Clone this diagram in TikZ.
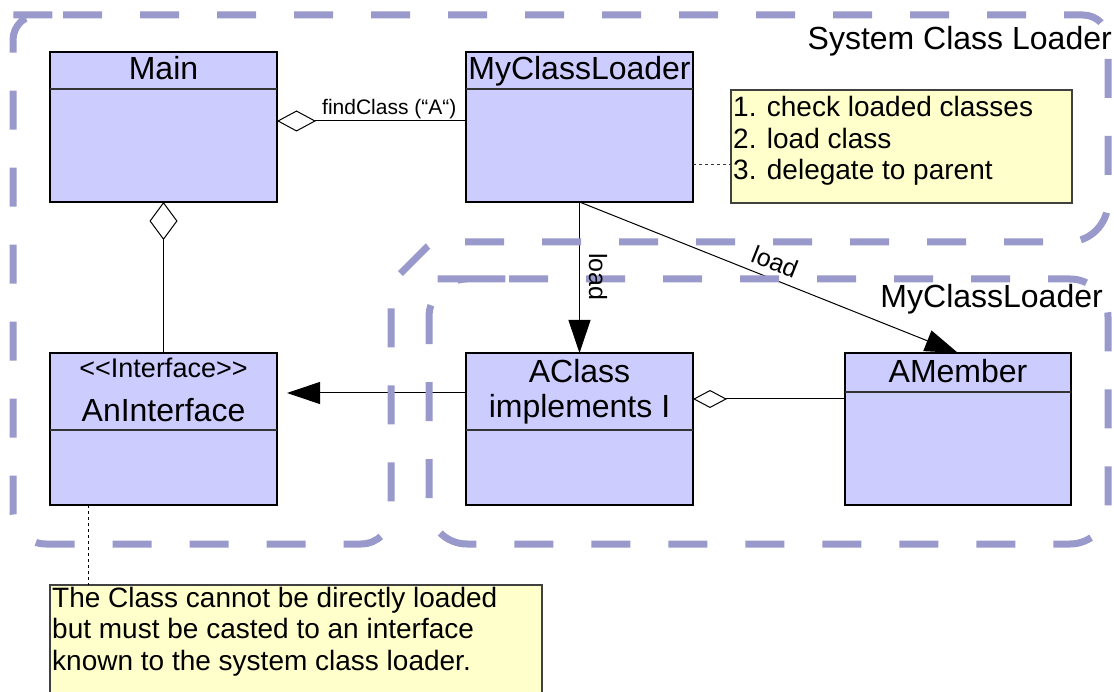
\documentclass[tikz,border=0pt]{standalone}
\usepackage{fontspec}
\setmainfont{Liberation Sans}
\usetikzlibrary{arrows.meta,calc}
\definecolor{boxfill}{HTML}{CCCCFF}
\definecolor{notefill}{HTML}{FFFFCC}
\definecolor{grp}{HTML}{9999CC}
\newcommand{\myfs}[1]{\fontsize{#1pt}{#1pt}\selectfont}
\begin{document}
\begin{tikzpicture}[x=1pt,y=-1pt,
  classbox/.style={draw=black, line width=1.5pt, fill=boxfill, inner sep=0pt, outer sep=0pt},
  notebox/.style={draw=black!75, line width=1.3pt, fill=notefill, inner sep=0pt, outer sep=0pt},
  divider/.style={draw=black!80, line width=1.3pt},
  title/.style={font=\myfs{32}, inner sep=0pt, anchor=base},
  notetext/.style={font=\myfs{28}, inner sep=0pt, anchor=base west},
  conn/.style={draw=black, line width=1pt},
  group/.style={draw=grp, line width=7pt, dash pattern=on 39pt off 38pt},
  grouplabel/.style={font=\myfs{32}, inner sep=0pt, anchor=base east},
  filltip/.style={-{Triangle[length=33pt,width=22pt]}},
  note link/.style={draw=black!80, line width=1pt, dash pattern=on 3pt off 3pt}
]
\useasboundingbox (0,0) rectangle (1114,692);
\clip (0,0) rectangle (1114,692);
\fill[white] (0,0) rectangle (1114,692);

% class boxes
\node[classbox, minimum width=227pt, minimum height=150pt] (main) at (163.5,127) {};
\node[classbox, minimum width=227pt, minimum height=150pt] (mcl) at (579.5,127) {};
\node[classbox, minimum width=227pt, minimum height=152pt] (ani) at (163.5,429) {};
\node[classbox, minimum width=227pt, minimum height=152pt] (acl) at (579.5,429) {};
\node[classbox, minimum width=226pt, minimum height=152pt] (amem) at (958,429) {};

% header dividers
\draw[divider] ($(main.north west)+(0,37)$) -- ($(main.north east)+(0,37)$);
\draw[divider] ($(mcl.north west)+(0,37)$) -- ($(mcl.north east)+(0,37)$);
\draw[divider] ($(ani.north west)+(0,77)$) -- ($(ani.north east)+(0,77)$);
\draw[divider] ($(acl.north west)+(0,77)$) -- ($(acl.north east)+(0,77)$);
\draw[divider] ($(amem.north west)+(0,39)$) -- ($(amem.north east)+(0,39)$);

% titles
\node[title] (mainT) at (163.5,80) {Main};
\node[title] (mclT) at (579.5,80) {MyClassLoader};
\node[title, font=\myfs{27}] (aniS) at (163.5,378) {<{}<Interface>{}>};
\node[title] (aniT) at (163.5,421) {AnInterface};
\node[title] (aclT) at (579.5,383) {AClass};
\node[title] (aclT2) at (579.5,418) {implements I};
\node[title] (amemT) at (958,383) {AMember};

% notes
\node[notebox, minimum width=341pt, minimum height=113pt] (note1) at (901.5,146.5) {};
\node[notetext] (n1a) at (733,117) {1. check loaded classes};
\node[notetext] (n1b) at (733,148.5) {2. load class};
\node[notetext] (n1c) at (733,180) {3. delegate to parent};

\node[notebox, minimum width=492pt, minimum height=125pt] (note2) at (296,647.5) {};
\node[notetext] (n2a) at (52,607) {The Class cannot be directly loaded};
\node[notetext] (n2b) at (52,638.5) {but must be casted to an interface};
\node[notetext] (n2c) at (52,670) {known to the system class loader.};

% connectors
\draw[conn, {Diamond[open,length=39pt,width=21pt]}-] ($(main.east)+(0,-6)$) -- ($(mcl.west)+(0,-6)$);
\node[font=\myfs{21}, inner sep=0pt, anchor=base west] (fc) at (322,115) {findClass (“A“)};
\draw[conn, {Diamond[open,length=38pt,width=28pt]}-] (main.south) -- (ani.north);
\draw[note link] ($(mcl.east)+(0,38)$) -- ($(note1.west)+(0,18.5)$);
\draw[conn, filltip, shorten >=10pt] ($(acl.west)+(0,-36)$) -- ($(ani.east)+(0,-36)$);
\draw[conn, {Diamond[open,length=34pt,width=18pt]}-] ($(acl.east)+(0,-30)$) -- ($(amem.west)+(0,-30)$);
\draw[conn, filltip] (mcl.south) -- (acl.north);
\draw[conn, filltip] (mcl.south) -- (amem.north);

% groups
\draw[group] (38,15) [rounded corners=25pt] -- (1108,15) [rounded corners=40pt] -- (1108,242) [rounded corners=6pt] -- (432,242) -- (391,283) [rounded corners=30pt] -- (391,544) [rounded corners=33pt] -- (13,544) [rounded corners=25pt] -- (13,15) -- cycle;
\draw[group, rounded corners=38pt] (471,279) -- (1108,279) -- (1108,544) -- (429,544) -- (429,279) -- cycle;
\node[grouplabel] (sysL) at (1112,50) {System Class Loader};
\node[grouplabel] (mclL) at (1103,308) {MyClassLoader};

\node[font=\myfs{25}, inner sep=0pt, rotate=-90] (ld1) at (598,277) {load};
\node[font=\myfs{25}, inner sep=0pt, rotate=-21.7] (ld2) at (775,262) {load};

\draw[note link, draw=black] ($(ani.south)+(-75.5,0)$) -- ($(note2.north)+(-208,0)$);
\end{tikzpicture}
\end{document}
